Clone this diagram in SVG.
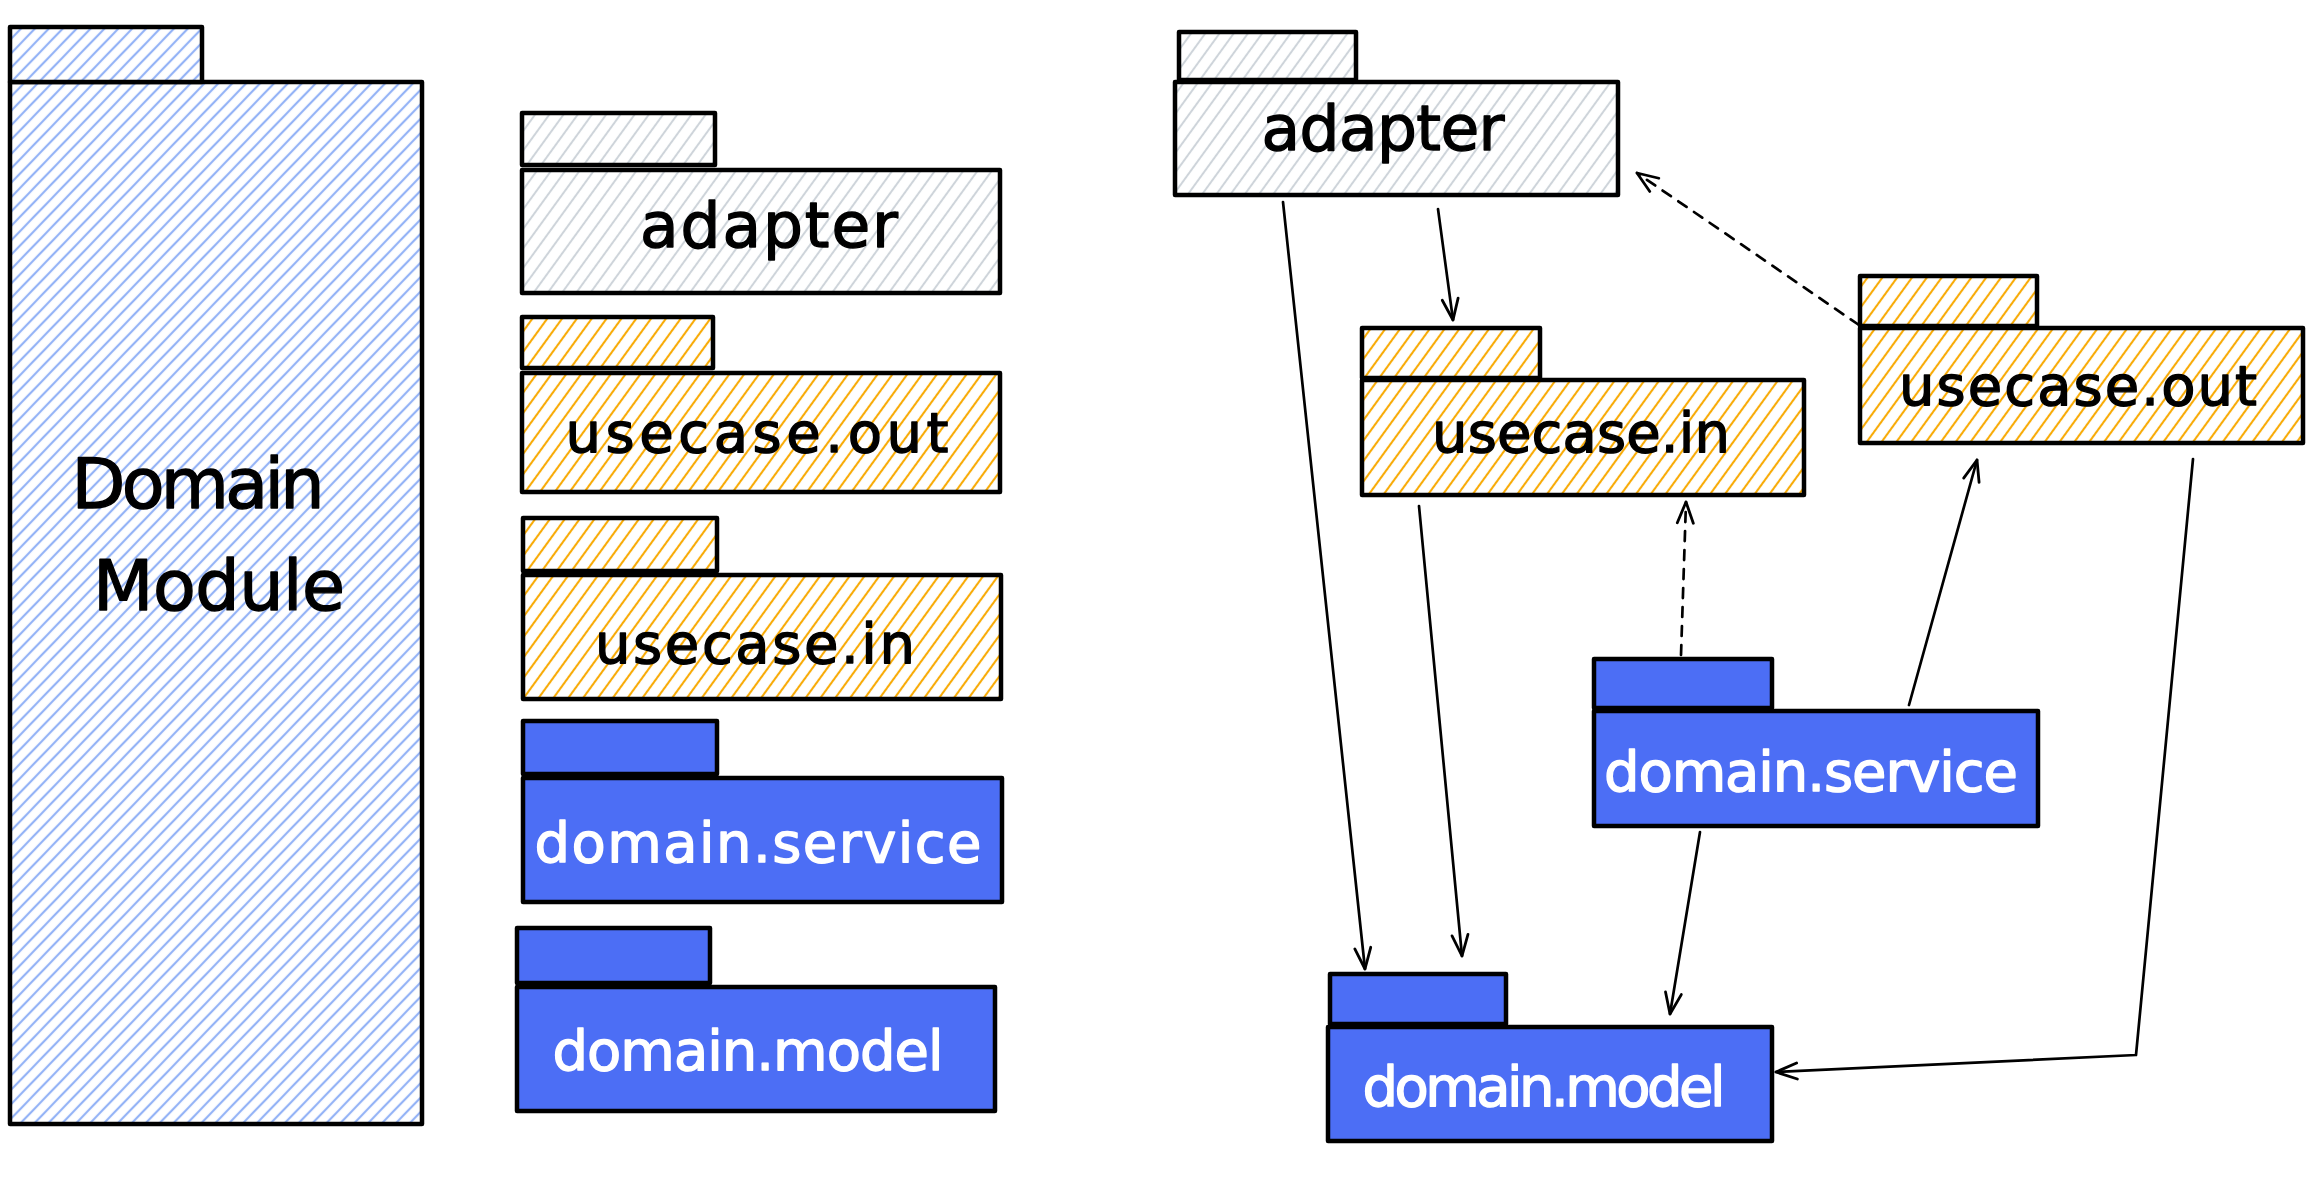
<svg xmlns="http://www.w3.org/2000/svg" width="2310" height="1187" viewBox="0 0 2310 1187">
  <defs>
    <pattern id="hatch-blue" patternUnits="userSpaceOnUse" width="20" height="10" patternTransform="rotate(-46)">
      <rect width="20" height="10" fill="#ffffff"/>
      <line x1="0" y1="5" x2="20" y2="5" stroke="#94b3f6" stroke-width="2.2"/>
    </pattern>
    <pattern id="hatch-gray" patternUnits="userSpaceOnUse" width="20" height="11.5" patternTransform="rotate(-54)">
      <rect width="20" height="11.5" fill="#ffffff"/>
      <line x1="0" y1="5.75" x2="20" y2="5.75" stroke="#ced4da" stroke-width="2"/>
    </pattern>
    <pattern id="hatch-orange" patternUnits="userSpaceOnUse" width="20" height="12" patternTransform="rotate(-54)">
      <rect width="20" height="12" fill="#ffffff"/>
      <line x1="0" y1="6" x2="20" y2="6" stroke="#f8ab08" stroke-width="2.1"/>
    </pattern>
    <marker id="arrow" markerUnits="userSpaceOnUse" markerWidth="40" markerHeight="40" viewBox="-30 -20 40 40" refX="0" refY="0" orient="auto">
      <path d="M -21 -8 L 0 0 L -21 8" fill="none" stroke="#000000" stroke-width="2.8" stroke-linecap="round" stroke-linejoin="round" stroke-dasharray="none"/>
    </marker>
  </defs>
  <style>
    .box { stroke: #000000; stroke-width: 4.5; stroke-linejoin: round; }
    .blue-h { fill: url(#hatch-blue); }
    .gray { fill: url(#hatch-gray); }
    .orange { fill: url(#hatch-orange); }
    .solid { fill: #4c6ef5; }
    .lbl { font-family: "DejaVu Sans", "Liberation Sans", sans-serif; font-size: 56px; text-anchor: middle; fill: #000000; stroke: #000000; stroke-width: 1.4; stroke-linejoin: round; }
    .lbl-w { fill: #ffffff; stroke: #ffffff; }
    .big { font-size: 70px; }
    .ad { font-size: 63px; }
    .conn { fill: none; stroke: #000000; stroke-width: 2.7; stroke-linecap: round; stroke-linejoin: round; }
    .dash { stroke-dasharray: 10 9; }
  </style>
  <rect width="2310" height="1187" fill="#ffffff"/>

  <g id="domain-module">
    <rect class="box blue-h" x="10" y="82" width="412" height="1042"/>
    <rect class="box blue-h" x="10" y="27" width="192" height="55"/>
    <text class="lbl big" x="198" y="508" textLength="253">Domain</text>
    <text class="lbl big" x="219" y="610" textLength="252">Module</text>
  </g>

  <g id="adapter-left">
    <rect class="box gray" x="522" y="113" width="193" height="52"/>
    <rect class="box gray" x="522" y="170" width="478" height="123"/>
    <text class="lbl ad" x="769" y="247" textLength="258">adapter</text>
  </g>
  <g id="usecase-out-left">
    <rect class="box orange" x="522" y="317" width="191" height="51"/>
    <rect class="box orange" x="522" y="373" width="478" height="119"/>
    <text class="lbl" x="757" y="452" textLength="383">usecase.out</text>
  </g>
  <g id="usecase-in-left">
    <rect class="box orange" x="523" y="518" width="194" height="53"/>
    <rect class="box orange" x="523" y="575" width="478" height="124"/>
    <text class="lbl" x="755" y="663" textLength="320">usecase.in</text>
  </g>
  <g id="domain-service-left">
    <rect class="box solid" x="523" y="721" width="194" height="53"/>
    <rect class="box solid" x="523" y="778" width="479" height="124"/>
    <text class="lbl lbl-w" x="758" y="862" textLength="447">domain.service</text>
  </g>
  <g id="domain-model-left">
    <rect class="box solid" x="517" y="928" width="193" height="55"/>
    <rect class="box solid" x="517" y="987" width="478" height="124"/>
    <text class="lbl lbl-w" x="748" y="1070" textLength="391">domain.model</text>
  </g>

  <g id="adapter-right">
    <rect class="box gray" x="1179" y="32" width="177" height="48"/>
    <rect class="box gray" x="1175" y="82" width="443" height="113"/>
    <text class="lbl ad" x="1383" y="150" textLength="243">adapter</text>
  </g>
  <g id="usecase-in-right">
    <rect class="box orange" x="1362" y="328" width="178" height="50"/>
    <rect class="box orange" x="1362" y="380" width="442" height="115"/>
    <text class="lbl" x="1581" y="452" textLength="298">usecase.in</text>
  </g>
  <g id="usecase-out-right">
    <rect class="box orange" x="1860" y="276" width="177" height="50"/>
    <rect class="box orange" x="1860" y="328" width="443" height="115"/>
    <text class="lbl" x="2078" y="405" textLength="358">usecase.out</text>
  </g>
  <g id="domain-service-right">
    <rect class="box solid" x="1594" y="659" width="178" height="49"/>
    <rect class="box solid" x="1594" y="711" width="444" height="115"/>
    <text class="lbl lbl-w" x="1811" y="791" textLength="414">domain.service</text>
  </g>
  <g id="domain-model-right">
    <rect class="box solid" x="1330" y="974" width="176" height="50"/>
    <rect class="box solid" x="1328" y="1027" width="444" height="114"/>
    <text class="lbl lbl-w" x="1544" y="1106" textLength="363">domain.model</text>
  </g>

  <g id="connectors">
    <path class="conn" d="M 1283 202 L 1365 969" marker-end="url(#arrow)"/>
    <path class="conn" d="M 1438 209 L 1453 320" marker-end="url(#arrow)"/>
    <path class="conn dash" d="M 1859 325 L 1637 173" marker-end="url(#arrow)"/>
    <path class="conn dash" d="M 1681 655 L 1686 502" marker-end="url(#arrow)"/>
    <path class="conn" d="M 1909 705 L 1977 460" marker-end="url(#arrow)"/>
    <path class="conn" d="M 1419 506 L 1462 956" marker-end="url(#arrow)"/>
    <path class="conn" d="M 1700 832 L 1670 1014" marker-end="url(#arrow)"/>
    <path class="conn" d="M 2193 459 L 2136 1055 L 1776 1072" marker-end="url(#arrow)"/>
  </g>
</svg>
